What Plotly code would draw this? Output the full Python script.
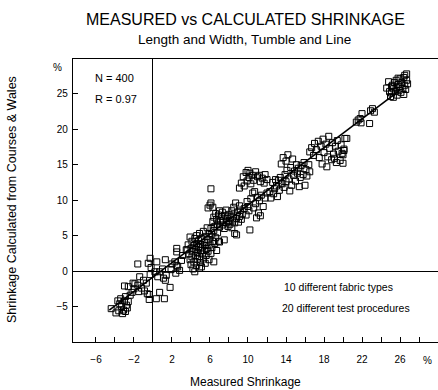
import plotly.graph_objects as go

# ---- data ----
tail_x = [-4.4,-3.9,-3.7,-3.6,-3.5,-3.4,-3.3,-3.2,-3.1,-3.0,-3.0,-2.9,-2.9,-2.8,-2.7,-2.6,-2.6,-2.4,-2.2,-2.1,
          -2.0,-1.9,-1.6,-1.5,-1.4,-1.2,-1.0,-0.9,-0.7,-0.6,-0.4,-0.4,0.35,0.7,1.2,1.8,1.3,1.1,0.5,-0.3,
          -1.6,-0.5,-0.3,0.4,1.3,2.3,2.6,1.0,0.2,0.7,-0.2,1.9,2.4,2.5,2.5,2.5,3.1,3.5,2.0,3.0,1.4,2.8]
tail_y = [-5.3,-5.9,-4.2,-5.6,-4.6,-3.9,-5.0,-6.0,-5.5,-4.2,-2.1,-3.6,-5.7,-4.8,-5.2,-4.3,-2.2,-3.4,-3.0,-1.7,
          -2.5,-1.8,-2.0,-2.9,-0.8,-2.4,-1.3,-2.8,-1.7,-3.2,-3.3,-4.0,-3.9,-3.0,-3.9,-2.3,-1.3,-1.0,-0.8,-0.5,
          1.0,1.1,1.8,1.3,1.6,1.3,0.6,0.3,-0.1,-0.1,0.5,0.2,-0.3,0.8,2.7,3.2,2.2,3.0,1.0,1.5,-0.6,0.1]

main_x = [3.6,3.7,3.9,3.8,3.9,4.0,4.0,4.1,4.1,4.2,4.2,4.3,4.3,4.4,4.4,4.5,4.5,4.6,4.6,4.6,
          4.7,4.7,4.8,4.8,4.9,4.9,4.9,5.0,5.0,5.0,5.1,5.1,5.2,5.2,5.3,5.3,5.4,5.4,5.5,5.5,
          5.6,5.6,5.7,5.7,5.8,5.8,5.9,5.9,6.0,6.0,6.1,6.1,6.2,6.2,6.3,6.4,6.4,6.5,6.6,6.7,
          6.8,6.9,7.0,7.5,8.8,10.2,8.6]
main_y = [3.0,3.7,4.8,2.4,1.6,0.9,3.2,2.0,4.2,0.3,2.7,3.6,1.3,-0.1,4.6,2.2,3.0,0.8,3.9,5.0,
          1.7,2.6,3.3,4.3,0.4,2.0,5.3,1.2,2.9,3.8,0.6,4.6,2.4,3.4,1.7,5.6,4.0,2.9,3.6,1.1,
          4.9,2.2,3.2,6.1,4.4,2.8,5.3,1.6,3.7,4.8,2.5,6.0,5.2,3.3,4.2,1.3,5.7,3.9,4.7,2.9,
          5.4,4.2,4.1,4.4,5.1,5.8,5.3]

mid_x = [5.8,6.0,6.3,6.1,6.3,6.4,6.5,6.6,6.7,6.8,6.9,7.0,7.0,7.1,7.2,7.3,7.3,7.4,7.5,7.6,
         7.7,7.7,7.8,7.9,8.0,8.0,8.1,8.2,8.3,8.3,8.4,8.5,8.5,8.6,8.7,8.8,8.9,9.0,9.1,9.1,
         9.2,9.3,9.4,9.6,9.8,10.0]
mid_y = [8.9,9.3,9.0,9.6,7.0,7.6,6.3,8.1,7.3,6.6,7.9,8.5,6.2,7.1,7.7,6.5,8.3,7.2,6.0,7.8,
         6.8,8.6,7.4,6.3,8.0,7.0,6.6,7.6,8.5,6.1,7.2,9.0,7.9,6.8,9.6,7.4,8.3,6.9,7.7,9.2,
         8.6,7.3,8.0,8.8,7.9,9.1]

upper_x = [9.9,10.1,10.3,10.5,10.6,10.7,10.8,10.9,11.0,11.1,11.2,11.4,11.6,11.8,12.0,11.3,
           9.1,9.3,9.5,9.6,9.8,9.9,10.0,10.1,10.2,10.3,10.5,10.6,10.8,11.0,11.2,11.3,11.5,11.7,11.8,12.0,6.1]
upper_y = [9.8,8.5,10.2,11.0,8.9,11.2,9.5,7.5,10.4,8.2,9.9,10.7,9.1,10.3,11.0,7.8,
           11.7,12.4,13.3,12.0,13.9,12.7,14.2,13.2,13.8,12.3,13.5,12.8,14.0,13.3,13.5,12.6,13.1,12.4,13.6,12.9,11.6]

high_x = [12.3,12.4,12.6,12.7,12.8,13.0,13.1,13.2,13.3,13.4,13.5,13.6,13.7,13.8,13.9,14.0,14.0,14.1,14.2,14.3,
          14.4,14.5,14.6,14.7,14.8,14.9,15.0,15.1,15.2,15.3,15.4,15.5,15.6,15.8,15.9,16.0,16.1,16.2,16.4,16.5,
          12.9,13.5]
high_y = [11.2,10.3,12.5,10.9,11.6,12.0,10.5,12.8,11.4,13.2,15.1,12.3,16.0,11.8,13.6,15.5,12.6,14.2,16.4,13.0,
          11.3,14.6,12.1,15.8,13.5,14.1,12.7,15.0,13.8,14.5,11.9,13.2,14.9,13.6,15.3,12.1,14.3,13.4,15.0,14.0,
          12.9,12.4]

top_x = [16.5,16.7,16.9,17.0,17.2,17.4,17.5,17.7,17.9,18.0,18.2,18.3,18.4,18.5,18.6,18.8,18.9,19.0,19.2,19.3,
         19.4,19.5,19.7,19.8,20.0,20.1,20.2,20.0,19.1,17.8,
         19.9,20.1,20.4,21.4,21.6,21.8,22.0,21.9,22.8,22.9,23.1,23.3]
top_y = [16.8,17.4,16.3,18.0,17.1,18.3,16.0,17.6,18.6,16.7,17.9,14.7,16.1,19.0,17.3,15.7,18.1,16.5,17.6,15.3,
         18.4,16.9,15.6,17.8,16.4,17.2,18.7,15.2,15.9,15.1,
         16.6,17.0,18.7,21.0,21.3,21.5,22.2,20.9,20.8,22.6,22.9,22.4]

peak_x = [24.6,24.8,24.9,25.0,25.1,25.2,25.3,25.3,25.4,25.5,25.6,25.6,25.7,25.8,25.9,26.0,26.0,26.1,26.2,26.3,
          26.4,26.5,26.5,26.6,26.7,26.7,26.8,26.4,25.1,25.8]
peak_y = [25.8,26.7,25.3,24.6,25.1,26.2,24.5,25.7,26.6,25.3,26.9,25.9,24.8,26.3,25.5,27.1,26.0,25.2,26.6,25.8,
          27.3,27.6,26.2,25.6,26.9,27.8,26.4,24.9,26.0,27.2]

fit_x = [-4.6, 26.0]
fit_y = [-5.5, 25.5]

x_ticks = [-6, -2, 2, 6, 10, 14, 18, 22, 26]
x_minor = [-4, 0, 4, 8, 12, 16, 20, 24, 28]
y_ticks = [-5, 0, 5, 10, 15, 20, 25]

measured = tail_x + main_x + mid_x + upper_x + high_x + top_x + peak_x
calculated = tail_y + main_y + mid_y + upper_y + high_y + top_y + peak_y

FONT = "Liberation Sans"

fig = go.Figure()
fig.add_trace(go.Scatter(x=measured, y=calculated, mode="markers",
                         marker=dict(symbol="square-open", size=6, color="black",
                                     line=dict(width=1, color="black")),
                         hoverinfo="skip"))
fig.add_trace(go.Scatter(x=fit_x, y=fit_y, mode="lines",
                         line=dict(color="black", width=1.6), hoverinfo="skip"))

axis_common = dict(showgrid=False, showline=True, linecolor="black", linewidth=1.3,
                   ticks="inside", ticklen=5, tickcolor="black", tickwidth=1,
                   zeroline=True, zerolinecolor="black", zerolinewidth=1.3,
                   tickfont=dict(family=FONT, size=10, color="black"))

fig.update_layout(
    width=438, height=390,
    margin=dict(l=73, r=0, t=59, b=48),
    paper_bgcolor="white", plot_bgcolor="white",
    showlegend=False,
    xaxis=dict(range=[-8.42, 30.0], tickvals=x_ticks, mirror=True,
               ticklabelstandoff=8,
               minor=dict(tickvals=x_minor, ticks="inside", ticklen=5, tickcolor="black"),
               **axis_common),
    yaxis=dict(range=[-10, 29.9], tickvals=y_ticks, ticklabelstandoff=2, **axis_common),
)

def ann(text, x, y, size, xanchor="center", angle=0):
    fig.add_annotation(text=text, x=x, y=y, xref="paper", yref="paper", showarrow=False,
                       xanchor=xanchor, yanchor="middle", textangle=angle,
                       font=dict(family=FONT, size=size, color="black"))

ann("MEASURED vs CALCULATED SHRINKAGE", 0.4726, 1.1396, 16)
ann("Length and Width, Tumble and Line", 0.471, 1.0689, 13.5)
ann("N = 400", 0.0548, 0.934, 11, "left")
ann("R = 0.97", 0.0548, 0.8587, 11, "left")
ann("10 different fabric types", 0.5718, 0.1943, 10.5, "left")
ann("20 different test procedures", 0.567, 0.1201, 10.5, "left")
ann("%", 0.9718, -0.0671, 10)
ann("%", -0.0411, 0.969, 10)
ann("Measured Shrinkage", 0.4734, -0.1413, 12)
ann("Shrinkage Calculated from Courses &amp; Wales", -0.167, 0.5018, 12.5, angle=-90)

fig.write_html("out.html")
